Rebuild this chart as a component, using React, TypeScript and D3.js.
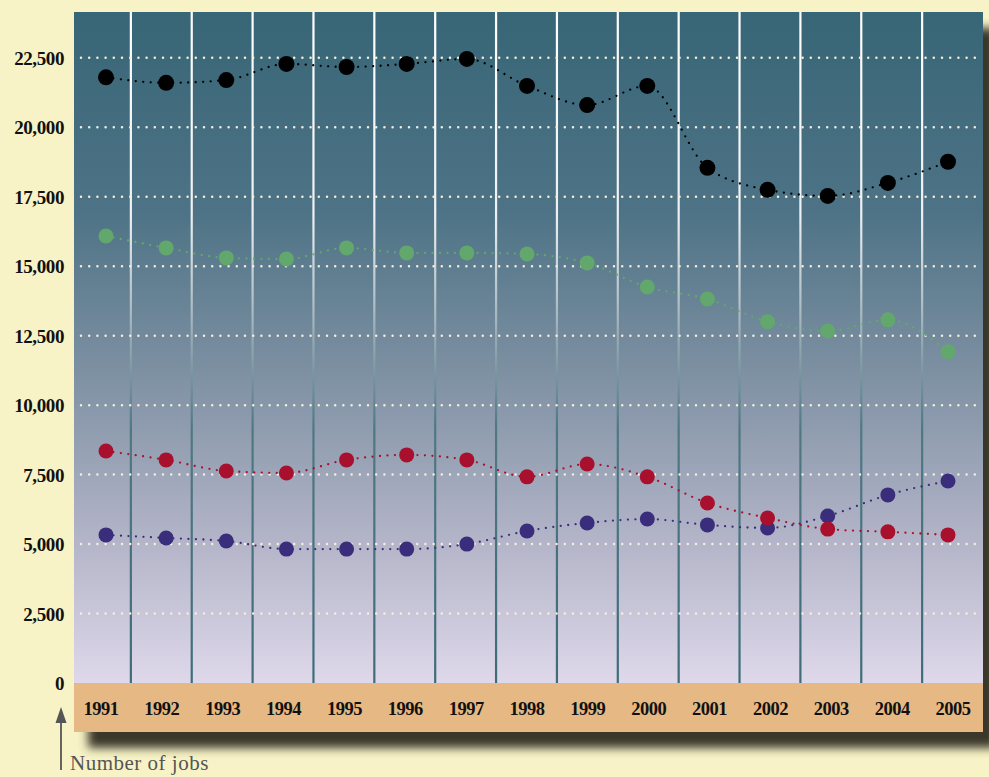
import React from "react";
import * as d3 from "d3";

const years = ["1991","1992","1993","1994","1995","1996","1997","1998","1999","2000","2001","2002","2003","2004","2005"];
const blackSeries = [21800,21600,21700,22280,22170,22280,22460,21490,20800,21490,18540,17750,17530,18000,18760];
const greenSeries = [16090,15660,15300,15260,15660,15480,15480,15440,15120,14250,13820,13000,12670,13070,11920];
const redSeries = [8350,8030,7630,7560,8030,8210,8030,7420,7880,7420,6480,5940,5540,5440,5330];
const blueSeries = [5330,5220,5110,4820,4820,4820,5000,5470,5760,5900,5690,5580,6010,6770,7270];
const yTicks = [0,2500,5000,7500,10000,12500,15000,17500,20000,22500];

const W = 989, H = 777;
const L = 74, R = 983, T = 12, B = 683, BAND_B = 732;

export default function App() {
  const y = d3.scaleLinear().domain([0, 24150]).range([B, T]);
  const xPt = d3.scalePoint<string>().domain(years).range([106, 948]);
  const xLab = d3.scalePoint<string>().domain(years).range([101, 953]);
  const xBand = d3.scaleBand<string>().domain(years).range([70, R]);
  const line = d3.line<number>()
    .x((_, i) => xPt(years[i]) as number)
    .y((v) => y(v))
    .curve(d3.curveMonotoneX);
  const fmt = d3.format(",");
  const series = [
    { data: blueSeries, color: "#3a2e7c", r: 7.5 },
    { data: redSeries, color: "#a8102e", r: 7.5 },
    { data: greenSeries, color: "#62a86c", r: 7.5 },
    { data: blackSeries, color: "#000000", r: 8 },
  ];
  return (
    <svg width={W} height={H} style={{ position: "absolute", left: 0, top: 0 }}>
      <defs>
        <linearGradient id="bg" x1="0" y1="0" x2="0" y2="1">
          <stop offset="0" stopColor="#376676" />
          <stop offset="0.3" stopColor="#4e7386" />
          <stop offset="0.55" stopColor="#8092a4" />
          <stop offset="0.8" stopColor="#b6b6ca" />
          <stop offset="1" stopColor="#ded8ea" />
        </linearGradient>
        <linearGradient id="vl" gradientUnits="userSpaceOnUse" x1="0" y1={T} x2="0" y2={B}>
          <stop offset="0" stopColor="#ffffff" />
          <stop offset="0.3" stopColor="#eef1f3" />
          <stop offset="0.45" stopColor="#a9b9c1" />
          <stop offset="0.62" stopColor="#4f7884" />
          <stop offset="1" stopColor="#3e6c79" />
        </linearGradient>
        <filter id="sh" x="-10%" y="-10%" width="130%" height="130%">
          <feGaussianBlur stdDeviation="5" />
        </filter>
      </defs>
      <rect x={0} y={0} width={W} height={H} fill="#f7f3c6" />
      <rect x={L + 14} y={T + 16} width={R - L} height={BAND_B - T} fill="#3b392b" filter="url(#sh)" />
      <rect x={L} y={T} width={R - L} height={B - T} fill="url(#bg)" />
      <rect x={L} y={B} width={R - L} height={BAND_B - B} fill="#e6b884" />
      {years.slice(1).map((yr) => (
        <line key={yr} x1={xBand(yr)} x2={xBand(yr)} y1={T} y2={B} stroke="url(#vl)" strokeWidth={2.2} />
      ))}
      {yTicks.filter((t) => t > 0).map((t) => (
        <line key={t} x1={81} x2={980} y1={y(t)} y2={y(t)} stroke="#f6eedf" strokeWidth={2.5}
          strokeDasharray="0 8.2" strokeLinecap="round" />
      ))}
      {yTicks.map((t) => (
        <text key={t} x={64} y={y(t) + 7} textAnchor="end" fontFamily="Liberation Serif, serif"
          fontWeight="bold" fontSize={19} letterSpacing={-0.4} fill="#111">{fmt(t)}</text>
      ))}
      {series.map((s, si) => (
        <g key={si}>
          <path d={line(s.data) as string} fill="none" stroke={s.color} strokeWidth={2.3}
            strokeDasharray="0 7.5" strokeLinecap="round" />
          {s.data.map((v, i) => (
            <circle key={i} cx={xPt(years[i])} cy={y(v)} r={s.r} fill={s.color} />
          ))}
        </g>
      ))}
      {years.map((yr) => (
        <text key={yr} x={xLab(yr)} y={715} textAnchor="middle" fontFamily="Liberation Serif, serif"
          fontWeight="bold" fontSize={18.5} letterSpacing={-0.5} fill="#111">{yr}</text>
      ))}
      <line x1={61} x2={61} y1={720} y2={770} stroke="#555" strokeWidth={1.8} />
      <path d="M61,707 L55.5,723 L66.5,723 Z" fill="#555" />
      <text x={70} y={770} fontFamily="Liberation Serif, serif" fontSize={21} letterSpacing={0.5} fill="#555">Number of jobs</text>
    </svg>
  );
}
